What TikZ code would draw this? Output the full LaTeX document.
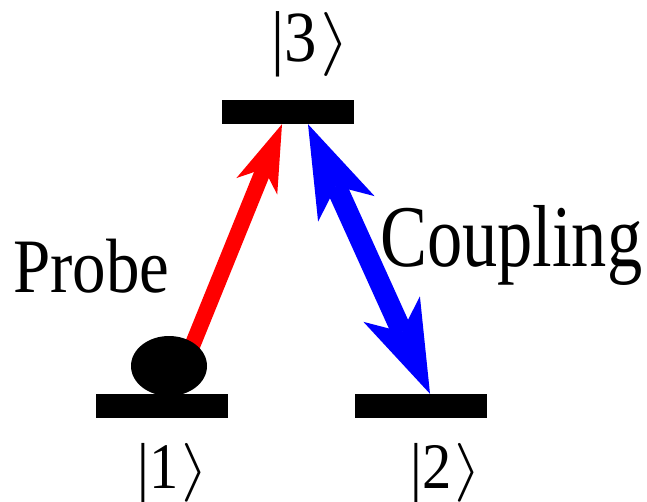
\documentclass[tikz,border=0pt]{standalone}
\usepackage{fontspec}
\setmainfont{Liberation Serif}
\usetikzlibrary{arrows.meta, positioning, calc, backgrounds, shapes.geometric}

\newcommand{\ketr}[1]{\kern3pt\raisebox{1pt}{\scalebox{#1}[#1]{\scalebox{1.25}[1.05]{\fontsize{10}{12}\selectfont$\rangle$}}}}

\begin{document}
\begin{tikzpicture}[
        x=1pt, y=-1pt,
        level/.style={rectangle, fill=black, minimum width=132pt,
            minimum height=24pt, inner sep=0pt},
        atom/.style={ellipse, fill=black, minimum width=76pt,
            minimum height=60pt, inner sep=0pt},
        ket/.style={inner sep=0pt, anchor=base},
        title/.style={inner sep=0pt, anchor=base west},
        probe/.style={draw=red, line width=16pt,
            -{Stealth[length=67pt, width=44pt, inset=19pt, line width=0pt]}},
        coupling/.style={draw=blue, line width=21pt,
            {Stealth[length=93pt, width=62pt, inset=25pt, line width=0pt]}-{Stealth[length=93pt, width=62pt, inset=25pt, line width=0pt]}},
    ]
    \useasboundingbox (0,0) rectangle (647,502);

    % levels
    \node[level] (l3) at (288,112) {};
    \node[level] (l1) at (162,406) {};
    \node[level] (l2) at (421,406) {};

    % population in the ground state
    \node[atom] (ball) at (169,366) {};

    % state labels
    \node[ket, font=\fontsize{72}{76}\selectfont\addfontfeature{FakeStretch=0.9}]
        (k3) at ([xshift=23pt, yshift=38pt]l3.north) {|3\ketr{6.1}};
    \node[ket, font=\fontsize{65}{70}\selectfont\addfontfeature{FakeStretch=0.9}]
        (k1) at ([xshift=11pt, yshift=-70pt]l1.south) {|1\ketr{5.6}};
    \node[ket, font=\fontsize{65}{70}\selectfont\addfontfeature{FakeStretch=0.9}]
        (k2) at ([xshift=25pt, yshift=-70pt]l2.south) {|2\ketr{5.6}};

    % field labels
    \node[title, font=\fontsize{77}{80}\selectfont\addfontfeature{FakeStretch=0.87}]
        (probelbl) at (13,293) {Probe};
    \node[title, font=\fontsize{88}{92}\selectfont\addfontfeature{FakeStretch=0.8}]
        (couplbl) at (380,267) {Coupling};

    % --- Arrows ---
    \begin{scope}[on background layer]
        \draw[probe] ($(ball.center)+(15,0)$) -- ([xshift=-6pt]l3.south);
    \end{scope}
    \draw[coupling] ([xshift=20pt]l3.south) -- ([xshift=9pt]l2.north);

\end{tikzpicture}
\end{document}
